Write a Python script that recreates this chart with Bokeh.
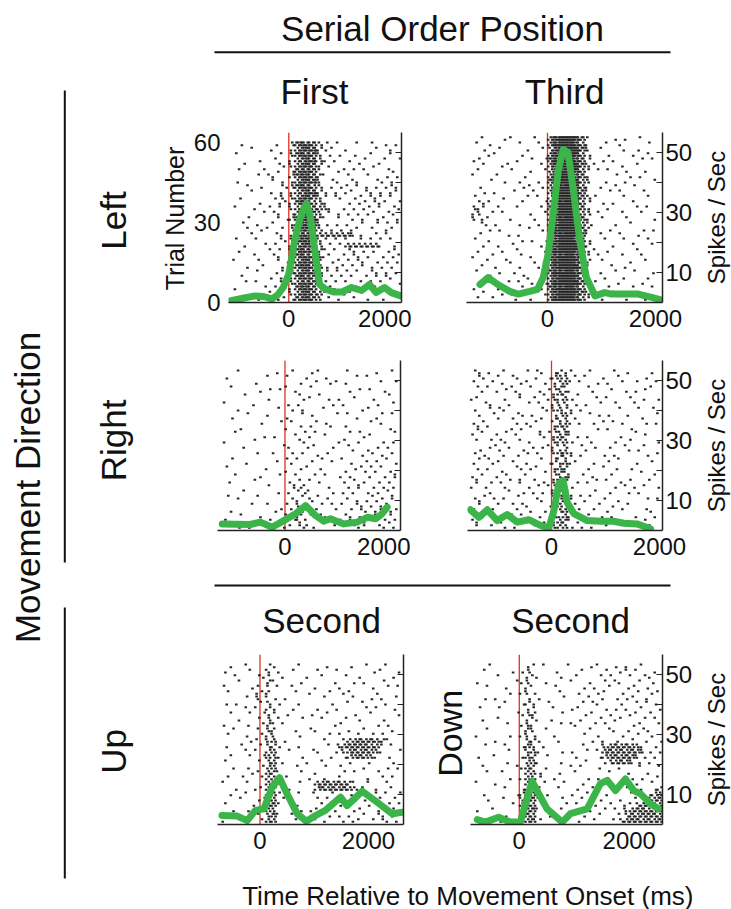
import math
from bokeh.plotting import figure
from bokeh.layouts import row, column
from bokeh.models import Range1d, LinearAxis, FixedTicker, Span
from bokeh.core.properties import value
from bokeh.embed import file_html
from bokeh.resources import INLINE

FONT = "Liberation Sans"
INK = "#111111"
GREEN = "#3bb54a"
RED = "#e0301e"
DOT = "#252525"

# ---------------- DATA ----------------
BIN_MS = 100            # raster bin width (ms); each row string = 2 trials, each digit = spikes in that bin
ONSET_MS = 0            # movement onset
RATE_TICKS = [10, 20, 30, 40, 50]
RATE_LABELS = {10: "10", 20: "", 30: "30", 40: "", 50: "50"}
TRIAL_TICKS = [0, 30, 60]
TIME_TICKS = [0, 2000]

# Left / First
p1_start = -1000
p1_rows = [
    "0100000100" "2465421010" "0010100101",
    "0001001000" "1356521100" "1000010010",
    "1000000010" "2465420101" "0100100010",
    "0000100100" "1346521010" "1001000101",
    "0010000011" "2356420100" "0010011000",
    "0100010010" "1455410011" "0101000110",
    "0000101100" "2466421000" "1000100101",
    "1000000110" "1356520110" "0110011010",
    "0010010011" "2465320101" "1011010111",
    "0001001010" "1346521010" "1101101011",
    "0100000120" "2356421011" "0110111010",
    "0000100011" "1465321000" "1011011101",
    "1001001010" "2355432101" "0101101011",
    "0000010110" "1346420110" "1010110110",
    "0010000011" "2456521010" "0101011001",
    "0100100100" "1356421010" "1001010101",
    "0010011010" "2466320101" "0110100110",
    "0001000110" "1355433333" "3210010100",
    "1000100011" "2466421010" "1010101010",
    "0010010100" "1356420101" "3333331010",
    "0100001010" "2465521010" "1101010110",
    "0001000110" "2465421101" "0110101011",
    "1000100011" "1356420110" "1011010101",
    "0010010010" "2466431011" "0101101010",
    "0000100110" "2356521010" "1010110101",
    "0100001011" "1465420101" "0101010110",
    "0010100010" "2355431010" "1010101001",
    "1000010101" "1466420110" "0101010100",
    "0001001010" "2356431001" "1010001010",
    "0100100011" "1456420110" "0100101001",
]
p1_t = [-1050, -800, -600, -450, -300, -200, -100, 0, 100, 200, 260, 320, 380, 460, 550, 650, 800, 950, 1120, 1300, 1440, 1560, 1710, 1830, 2000]
p1_rate = [0.5, 1.5, 2.2, 2.0, 1.2, 2.5, 5, 9.5, 20, 28, 31, 33, 29, 18, 6, 4.5, 3.5, 3.5, 5, 4, 6, 3.3, 5, 3.3, 2.2]

# Left / Third
p2_start = -1400
p2_rows = [
    "01000011000100" "36898641" "000010100100",
    "10010000100010" "37888531" "001001000010",
    "00100100001001" "25898742" "010000101000",
    "00011000010000" "36788631" "000100010010",
    "11000000100101" "47898541" "001010000101",
    "00100110000010" "36889742" "100001001000",
    "01000001001001" "25798631" "010100100010",
    "10001000010000" "36888541" "000010010100",
    "00010010100010" "47898732" "001000100001",
    "01000000011001" "35788631" "010010001000",
    "00101001000100" "36898541" "000101000100",
    "10000100001010" "25888742" "100000100010",
    "01110000010001" "36798631" "001010010000",
    "21101000100010" "47888541" "000100001010",
    "12010100001001" "36898632" "010001000100",
    "21100001000100" "35788741" "001000100001",
    "01101000100010" "36898531" "100010010000",
    "00010100001001" "47888642" "000100000101",
    "01000010100000" "36798631" "010001001000",
    "10010000010101" "25898541" "001000100010",
    "00101001000010" "36888732" "000010010001",
    "01000100100001" "47898641" "100100001000",
    "10010000011000" "36788531" "010001000100",
    "00100011000101" "37898642" "001000010010",
    "01001000100010" "36888731" "000100100000",
    "10000101000001" "47798541" "010010001001",
    "00110000011000" "36898632" "001000100010",
    "01000010100101" "37888741" "100001000100",
    "10001000010010" "46798531" "000100010001",
    "00100101000001" "36898642" "010010000100",
    "01010000101000" "37888531" "001000100010",
]
p2_t = [-1250, -1100, -920, -700, -540, -330, -185, -80, 10, 105, 200, 290, 380, 475, 600, 720, 880, 1060, 1190, 1680, 1930, 2120]
p2_rate = [6, 8.3, 6, 3.7, 2.8, 3.7, 4.4, 8.3, 16, 29.5, 44, 51, 50, 38, 20.6, 8.3, 2.2, 3.3, 2.8, 2.8, 1.7, 0.8]

# Right / First
p3_start = -1100
p3_rows = [
    "00100000010" "0100110000" "0100001001",
    "10000001000" "1001000100" "0010100000",
    "00000100000" "0010010011" "1000000101",
    "01000000101" "1000100000" "0001010000",
    "00010010000" "0110001000" "0100000110",
    "00000000100" "0001100101" "0010010000",
    "10000100000" "1010000010" "1000001001",
    "00100000010" "0101001000" "0001100000",
    "00001001000" "0001100001" "0100000101",
    "01000000001" "1100010000" "0010011000",
    "00000010000" "0010100110" "1000000100",
    "00110000000" "1001010000" "0101000011",
    "00000001010" "0100100100" "0000110000",
    "10000100000" "0011000001" "1001000101",
    "00010000001" "1000110010" "0100001010",
    "00000010100" "0101000100" "0010110001",
    "01000000000" "1010011000" "1001000110",
    "00001000010" "0100100010" "0100101001",
    "10000001000" "0011001000" "0011010100",
    "00100000001" "1100010100" "1000101011",
    "00000110000" "0010100001" "0110010101",
    "01000000100" "1101001000" "1001101010",
    "00010000000" "0120100100" "0101010111",
    "10000010010" "1002010010" "1010111001",
    "00100000000" "0110200100" "0110101101",
    "00000101000" "1021001010" "1011010110",
    "01000000011" "0112010001" "0101101111",
    "00010010000" "1020101100" "1101011010",
    "10000000100" "0121000101" "0110110111",
    "00101000001" "1012010010" "1011101101",
]
p3_t = [-1120, -620, -440, -230, -20, 190, 370, 545, 690, 810, 1050, 1290, 1470, 1620, 1735, 1825]
p3_rate = [2.2, 2.0, 2.8, 1.1, 3.3, 5.6, 8.3, 5.0, 3.1, 3.9, 2.2, 2.8, 4.4, 3.9, 5.6, 7.8]

# Right / Third
p4_start = -1500
p4_rows = [
    "110100100010110" "1211000100" "0100100010",
    "011001011000101" "2320101001" "0010000100",
    "100011000110010" "1131010010" "1001010001",
    "010100110001001" "2210001000" "0100000110",
    "001010001100110" "1321100100" "0001010000",
    "110000100101001" "2131000010" "1000100101",
    "001100010010100" "1220101001" "0100010000",
    "100101100000011" "2311010000" "0010001010",
    "010010001101000" "1131000110" "1000100001",
    "001001010000110" "2220100001" "0100001000",
    "110100001011000" "1331010100" "0001000101",
    "011000110100101" "2121000010" "1000110000",
    "100010001000110" "1321101000" "0010000100",
    "010101100110000" "2231000100" "0100100001",
    "000110010001011" "1120010010" "1001000100",
    "110001000110100" "2331001000" "0000101001",
    "011100101000010" "1221010001" "0110000100",
    "100011010010001" "2131100100" "1000010010",
    "010100001101100" "1320001001" "0010100000",
    "001001100010010" "2211010000" "0100001001",
    "110010010101000" "1331000110" "1000100010",
    "010101000100111" "2120101000" "0011000100",
    "101000110010000" "1331000010" "0100010001",
    "001100001101010" "2221010100" "1000101000",
    "110010100000110" "1131001001" "0010000101",
    "010001010110001" "2320100010" "0100100000",
    "100110001001010" "1231010100" "1001000110",
    "001000110100100" "2131001001" "0100010001",
    "110011000010011" "1321100010" "0010100100",
    "010100101001000" "2231010100" "1000001010",
]
p4_t = [-1500, -1345, -1190, -1005, -820, -635, -420, -205, -50, 45, 135, 215, 290, 415, 660, 905, 1155, 1340, 1585, 1835]
p4_rate = [6.9, 4.4, 6.9, 3.3, 5.3, 2.8, 3.6, 1.7, 0.9, 6.7, 15.6, 16.7, 9.4, 5.6, 3.3, 3.1, 3.1, 2.4, 2.2, 0.6]

# Up / Second
p5_start = -700
p5_rows = [
    "0100100" "0110000100" "0010001001000100",
    "1000010" "0201001000" "1000100000011001",
    "0010001" "1100100010" "0100010010000010",
    "0001000" "0210000100" "0001000101001000",
    "1000011" "0101010000" "1000100000100101",
    "0100001" "1200001001" "0010011000010000",
    "0000102" "0110100000" "0100000100101001",
    "1010000" "1201000100" "0001001010000100",
    "0000101" "0210001000" "1000100001010010",
    "0100010" "1110010001" "0010000100100001",
    "0001001" "0201000100" "0100010010001000",
    "1000100" "1210100000" "0001100000010100",
    "0010001" "0220001001" "1000001001000010",
    "0100100" "1120000100" "0010100010101000",
    "0000011" "0230100000" "0100012343432100",
    "1001000" "1221000100" "0010234444331010",
    "0000101" "0230010001" "1000123434321001",
    "0100010" "1321000100" "0001012343210100",
    "1000001" "0230100010" "0100001000100010",
    "0010100" "1230001000" "0010100001000101",
    "0000011" "0321000100" "1000010100010000",
    "0101000" "1230100001" "0100100001001010",
    "1000100" "0341000100" "3343432101000100",
    "0010001" "1320010000" "2434343210010010",
    "0100100" "0241000101" "0001001000110101",
    "0001001" "1330100000" "1010000101001010",
    "1000010" "0241001000" "0100110000101101",
    "0010100" "1320000101" "1001000110010110",
    "0100001" "0241010000" "0010101001011011",
    "1001000" "1330001010" "1100010110101101",
]
p5_t = [-700, -420, -235, -85, 70, 225, 360, 500, 685, 855, 1025, 1205, 1485, 1605, 1885, 2160, 2435, 2620]
p5_rate = [3.0, 2.8, 1.3, 4.7, 5.2, 12.4, 15.6, 10.2, 3.6, 1.1, 3.0, 4.7, 9.1, 6.3, 11.1, 7.4, 3.6, 4.1]

# Down / Second
p6_start = -800
p6_rows = [
    "00100000" "0110100010" "0001100101001000",
    "01000010" "1200001000" "0100010011010010",
    "00001000" "0111000100" "1000101000101100",
    "10000001" "1200100001" "0010010110010010",
    "00100100" "0110001000" "0101001001100100",
    "00000010" "1210000100" "1000110010010011",
    "01010000" "0101000010" "0010010101100100",
    "00000100" "1210010000" "0101100010010110",
    "10001000" "0110001001" "1000010101001001",
    "00000001" "1220000100" "0011001000110100",
    "01001000" "0111010000" "0100100110001010",
    "00000100" "1210000101" "1001010000110001",
    "00100000" "0220100000" "0010001101001100",
    "10000010" "1210001000" "0100100010010010",
    "00010000" "0221000100" "0001010100100101",
    "01000100" "1320100000" "0100023434321010",
    "00000010" "0231000101" "0010134343432101",
    "10010000" "1320010000" "1000123434321010",
    "00000100" "0231000100" "0010012343210100",
    "01000001" "1320100001" "0100100010010001",
    "00101000" "0231000100" "1000001001000100",
    "00000010" "1321001000" "0010100000101001",
    "10010000" "0330100010" "0100010010010010",
    "00000100" "1331000100" "1001000101001012",
    "01000001" "2430010001" "0010010000100123",
    "00100100" "2341000100" "0100100010012334",
    "00000010" "3430100010" "1001001001123443",
    "10010000" "2441000100" "0010010102344334",
    "00000100" "3430010001" "0100100012434443",
    "01001000" "2341000100" "1001000123443434",
]
p6_t = [-765, -615, -375, -160, 20, 145, 235, 355, 505, 780, 930, 1235, 1475, 1600, 1750, 1930, 2080, 2205, 2385, 2535]
p6_rate = [1.6, 0.8, 2.4, 0.8, 0.8, 9.1, 14.4, 10.2, 5.2, 0.8, 3.6, 5.2, 13.6, 14.7, 11.3, 15.2, 11.3, 10.2, 6.9, 5.2]

# ---------------- HELPERS ----------------
RATE_TOP = 170 / 3.0        # 3 px per spike/s over a 170 px frame
TRIAL_TOP = 170 / (160 / 60.0)
SLOTS = [(0, 0), (1, 2), (0, 3), (1, 1), (0, 2), (1, 0), (0, 1), (1, 3)]


def raster(rows_top_first, start):
    xs, ys = [], []
    n = len(rows_top_first)
    for i, s in enumerate(rows_top_first):
        r = n - 1 - i
        for b, ch in enumerate(s):
            c = min(int(ch), 8)
            rot = (3 * r + 5 * b) % 8 if c <= 2 else 0
            for k in range(c):
                tr, sub = SLOTS[(rot + k) % 8]
                xs.append(start + b * BIN_MS + 12.5 + 25 * sub)
                ys.append(2 * r + 1 + tr)
    return xs, ys


def base_fig(**kw):
    p = figure(toolbar_location=None, output_backend="svg",
               x_axis_location=None, y_axis_location=None, **kw)
    p.outline_line_color = None
    p.background_fill_color = "white"
    p.border_fill_color = "white"
    for g in p.grid:
        g.visible = False
    return p


def deco(x0, x1, y0, y1):
    return base_fig(width=int(round(x1 - x0)), height=int(round(y1 - y0)),
                    x_range=Range1d(x0, x1), y_range=Range1d(y1, y0), min_border=0)


def txt(p, x, y, s, size, angle=0.0, align="center"):
    p.text(x=[x], y=[y], text=[s], angle=angle, text_font=value(FONT),
           text_font_size=value(f"{size}px"), text_color=INK,
           text_align=align, text_baseline="middle")


def panel(rows, start, t, rate, xr, fw, bl, br, bt, bb, left_axis=False, right_labels=False):
    p = base_fig(frame_width=fw, frame_height=170, min_border_left=bl, min_border_right=br,
                 min_border_top=bt, min_border_bottom=bb,
                 x_range=Range1d(*xr), y_range=Range1d(0, RATE_TOP))
    p.extra_y_ranges = {"trials": Range1d(0, TRIAL_TOP)}
    p.add_layout(Span(location=ONSET_MS, dimension="height", line_color=RED,
                      line_width=1.3, level="underlay"))
    xs, ys = raster(rows, start)
    p.rect(x=xs, y=ys, width=2.6, height=2.0, width_units="screen", height_units="screen",
           fill_color=DOT, line_color=None, y_range_name="trials")
    p.line(x=t, y=rate, line_color=GREEN, line_width=7, line_join="round", line_cap="round")

    bx = LinearAxis(ticker=FixedTicker(ticks=TIME_TICKS), major_tick_in=0, major_tick_out=0,
                    axis_line_color="#222222", axis_line_width=1.5,
                    major_label_text_font=FONT, major_label_text_font_size="24px",
                    major_label_text_color=INK, major_label_standoff=7)
    p.add_layout(bx, "below")

    labels = RATE_LABELS if right_labels else {k: "" for k in RATE_TICKS}
    ry = LinearAxis(ticker=FixedTicker(ticks=RATE_TICKS), major_tick_in=6, major_tick_out=0,
                    major_tick_line_color="#222222", major_tick_line_width=1.2,
                    axis_line_color="#222222", axis_line_width=1.5,
                    major_label_overrides=labels,
                    major_label_text_font=FONT, major_label_text_font_size="24px",
                    major_label_text_color=INK, major_label_standoff=3)
    p.add_layout(ry, "right")

    if left_axis:
        ly = LinearAxis(y_range_name="trials", ticker=FixedTicker(ticks=TRIAL_TICKS),
                        major_tick_in=0, major_tick_out=0, axis_line_color=None,
                        major_tick_line_color=None,
                        major_label_text_font=FONT, major_label_text_font_size="24px",
                        major_label_text_color=INK, major_label_standoff=8)
        p.add_layout(ly, "left")
    return p


# ---------------- PANELS ----------------
P1 = panel(p1_rows, p1_start, p1_t, p1_rate, (-1077, 2013), 173, 37, 10, 14, 38, left_axis=True)
P2 = panel(p2_rows, p2_start, p2_t, p2_rate, (-1500, 2130), 196, 55, 31, 14, 38, right_labels=True)
P3 = panel(p3_rows, p3_start, p3_t, p3_rate, (-1205, 2063), 183, 27, 10, 20, 38)
P4 = panel(p4_rows, p4_start, p4_t, p4_rate, (-1556, 2056), 195, 57, 30, 20, 38, right_labels=True)
P5 = panel(p5_rows, p5_start, p5_t, p5_rate, (-783, 2645), 186, 27, 5, 14, 38)
P6 = panel(p6_rows, p6_start, p6_t, p6_rate, (-887, 2604), 192, 1, 30, 14, 38, right_labels=True)

# ---------------- DECORATION ----------------
left = deco(0, 190, 0, 909)
left.segment(x0=[64.3, 64.3], y0=[90, 607], x1=[64.3, 64.3], y1=[562, 878], line_color=INK, line_width=2)
txt(left, 27, 487, "Movement Direction", 35, angle=math.pi / 2)
txt(left, 113, 220, "Left", 35, angle=math.pi / 2)
txt(left, 113, 440, "Right", 35, angle=math.pi / 2)
txt(left, 113, 751, "Up", 35, angle=math.pi / 2)
txt(left, 174, 218, "Trial Number", 25, angle=math.pi / 2)

header = deco(190, 692, 0, 118)
txt(header, 442, 28, "Serial Order Position", 35)
header.segment(x0=[214], y0=[51.7], x1=[670], y1=[51.7], line_color=INK, line_width=2)
txt(header, 314, 91, "First", 35)
txt(header, 564, 91, "Third", 35)

sep = deco(190, 692, 568, 640)
sep.segment(x0=[214], y0=[585], x1=[670], y1=[585], line_color=INK, line_width=2)
txt(sep, 321, 620, "Second", 35)
txt(sep, 570, 620, "Second", 35)

down = deco(408, 469, 640, 862)
txt(down, 449, 743, "Down", 34, angle=math.pi / 2)

rstrip = deco(692, 731, 0, 862)
for yc in (217, 445, 739):
    txt(rstrip, 713, yc, "Spikes / Sec", 24, angle=math.pi / 2)

footer = deco(190, 731, 862, 909)
txt(footer, 241.7, 895, "Time Relative to Movement Onset (ms)", 26, align="left")

mid = column(header, row(P1, P2), row(P3, P4), sep, row(P5, down, P6))
layout = row(left, column(row(mid, rstrip), footer))

open("out.html", "w").write(file_html(layout, INLINE))
